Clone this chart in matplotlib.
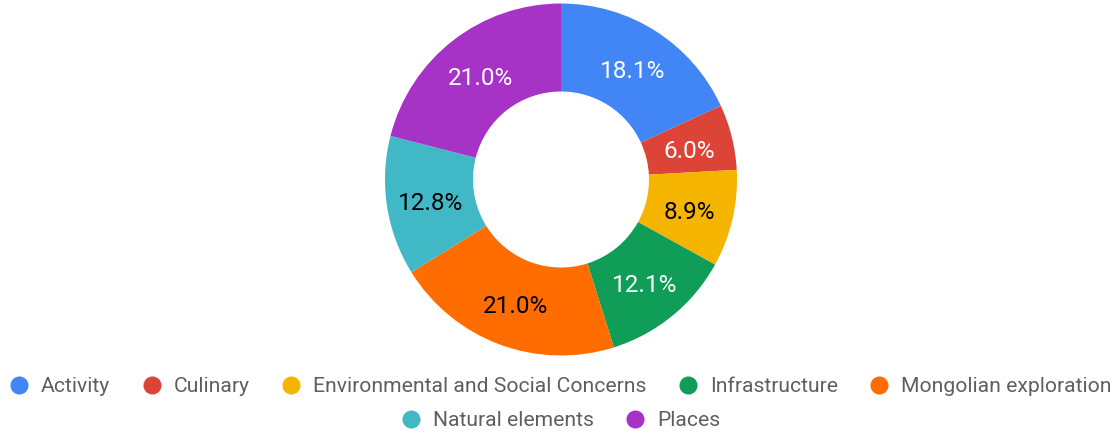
import matplotlib
matplotlib.use("Agg")
import matplotlib.pyplot as plt
from matplotlib.lines import Line2D
import numpy as np

categories = ["Activity", "Culinary", "Environmental and Social Concerns", "Infrastructure",
              "Mongolian exploration", "Natural elements", "Places"]
values = [18.1, 6.0, 8.9, 12.1, 21.0, 12.8, 21.0]
colors = ["#4285F4", "#DB4437", "#F4B400", "#0F9D58", "#FF6D00", "#41B8C6", "#A632C6"]
label_colors = ["white", "white", "black", "white", "black", "black", "white"]

plt.rcParams['font.family'] = ['Roboto', 'DejaVu Sans']

W, H = 1120, 433
fig = plt.figure(figsize=(W/100, H/100), dpi=100)
cx, cy, R = 561, 179.5, 176
ax = fig.add_axes([(cx-R)/W, (H-cy-R)/H, 2*R/W, 2*R/H])

wedges, _ = ax.pie(values, colors=colors, startangle=90, counterclock=False,
                   radius=1, wedgeprops=dict(width=0.5, linewidth=0))
total = sum(values)
for w, v, tc in zip(wedges, values, label_colors):
    ang = np.deg2rad((w.theta1 + w.theta2) / 2)
    r = 0.75
    ax.text(r*np.cos(ang), r*np.sin(ang) - 0.02, f"{v/total*100:.1f}%", ha="center", va="center",
            fontsize=17.5, color=tc)
ax.set_xlim(-1, 1)
ax.set_ylim(-1, 1)
ax.axis("off")

def handles(idx):
    return [Line2D([], [], marker='o', linestyle='', markersize=13,
                   markerfacecolor=colors[i], markeredgewidth=0) for i in idx]

row1 = [0, 1, 2, 3, 4]
row2 = [5, 6]
for idx, y in [(row1, 387), (row2, 421)]:
    leg = fig.legend(handles(idx), [categories[i] for i in idx], ncol=len(idx), loc="center",
                     bbox_to_anchor=(0.5, 1 - y/H), frameon=False, fontsize=15.2,
                     handletextpad=0.55, columnspacing=1.45, handlelength=1.0, borderpad=0)
    for t in leg.get_texts():
        t.set_color("#5f5f5f")

fig.savefig("out.png", dpi=100)
